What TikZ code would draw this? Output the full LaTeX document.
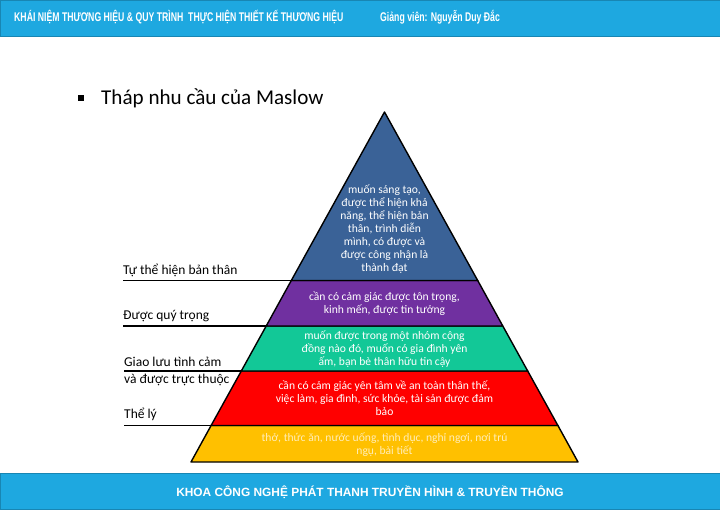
\documentclass[tikz,border=0pt]{standalone}
\usepackage{fontspec}
\setmainfont{Carlito}
\newfontfamily\arialf{Liberation Sans}
\newfontfamily\arialn[FakeStretch=0.69]{Liberation Sans}
\definecolor{bandblue}{HTML}{1EA8E0}
\definecolor{lvlA}{HTML}{3A6297}
\definecolor{lvlB}{HTML}{7030A0}
\definecolor{lvlC}{HTML}{12C897}
\definecolor{lvlD}{HTML}{FF0000}
\definecolor{lvlE}{HTML}{FFC000}
\definecolor{paleyel}{HTML}{FFEDB8}
\begin{document}
\begin{tikzpicture}[x=1pt,y=-1pt,
  band/.style={fill=bandblue,draw=bandblue!80!black,line width=0.6pt},
  bandtxt/.style={font=\arialn\bfseries\fontsize{12.6}{14}\selectfont,text=white,inner sep=0pt},
  foottxt/.style={font=\arialf\bfseries\fontsize{11.9}{14}\selectfont,text=white,inner sep=0pt},
  layer/.style={draw=black,line width=1.4pt,line join=round},
  intxt/.style={font=\fontsize{11.6}{12.9}\selectfont,text=white,align=center,inner sep=0pt},
  lbl/.style={font=\fontsize{13.5}{15}\selectfont,anchor=west,inner sep=0pt},
  lblline/.style={draw=black,line width=1.2pt}]
\useasboundingbox (0,0) rectangle (720,509);
% bands
\path[band] (0,0) rectangle (720,36);
\path[band] (0,473) rectangle (720,509);
\node[bandtxt,anchor=west] (hl) at (14,17) {KHÁI NIỆM THƯƠNG HIỆU \& QUY TRÌNH\ \ THỰC HIỆN THIẾT KẾ THƯƠNG HIỆU};
\node[bandtxt,anchor=west] (hr) at (380,17) {Giảng viên: Nguyễn Duy Đắc};
\node[foottxt,anchor=center] (ft) at (370,492) {KHOA CÔNG NGHỆ PHÁT THANH TRUYỀN HÌNH \& TRUYỀN THÔNG};
% title
\node[inner sep=0pt] (bul) at (81,98) {\rule{6pt}{6pt}};
\node[anchor=west,inner sep=0pt,font=\fontsize{21.1}{25}\selectfont] (title) at (101,98) {Tháp nhu cầu của Maslow};
% pyramid coordinates
\coordinate (apex) at (384.5,112);
\coordinate (L1) at (291.3,280.5); \coordinate (R1) at (477.7,280.5);
\coordinate (L2) at (266.2,326);   \coordinate (R2) at (502.8,326);
\coordinate (L3) at (241.3,371);   \coordinate (R3) at (527.7,371);
\coordinate (L4) at (211.1,425.5); \coordinate (R4) at (557.9,425.5);
\coordinate (L5) at (191,462);     \coordinate (R5) at (578,462);
\path[layer,fill=lvlE] (L4) -- (R4) -- (R5) -- (L5) -- cycle;
\path[layer,fill=lvlD] (L3) -- (R3) -- (R4) -- (L4) -- cycle;
\path[layer,fill=lvlC] (L2) -- (R2) -- (R3) -- (L3) -- cycle;
\path[layer,fill=lvlB] (L1) -- (R1) -- (R2) -- (L2) -- cycle;
\path[layer,fill=lvlA] (apex) -- (R1) -- (L1) -- cycle;
% texts in layers
\node[intxt] (tA) at (384.5,229) {muốn sáng tạo,\\được thể hiện khả\\năng, thể hiện bản\\thân, trình diễn\\mình, có được và\\được công nhận là\\thành đạt};
\node[intxt] (tB) at (384.5,303.5) {cần có cảm giác được tôn trọng,\\kinh mến, được tin tưởng};
\node[intxt] (tC) at (384.5,349) {muốn được trong một nhóm cộng\\đồng nào đó, muốn có gia đình yên\\ấm, bạn bè thân hữu tin cậy};
\node[intxt] (tD) at (384.5,398.5) {cần có cảm giác yên tâm về an toàn thân thế,\\việc làm, gia đình, sức khỏe, tài sản được đảm\\bảo};
\node[intxt,text=paleyel] (tE) at (384.5,444.5) {thở, thức ăn, nước uống, tình dục, nghỉ ngơi, nơi trú\\ngụ, bài tiết};
% side labels
\coordinate (s1) at (123,280.5);
\coordinate (s2) at (123,326);
\coordinate (s3) at (124,371);
\coordinate (s4) at (124,425.5);
\draw[lblline] (s1) -- (L1);
\draw[lblline] (s2) -- (L2);
\draw[lblline] (s3) -- (L3);
\draw[lblline] (s4) -- (L4);
\node[lbl] (l1) at (123,270) {Tự thể hiện bản thân};
\node[lbl] (l2) at (123,316.5) {Được quý trọng};
\node[lbl] (l3a) at (124,361.5) {Giao lưu tình cảm};
\node[lbl] (l3b) at (124,380) {và được trực thuộc};
\node[lbl] (l4) at (124,414) {Thể lý};
\end{tikzpicture}
\end{document}
